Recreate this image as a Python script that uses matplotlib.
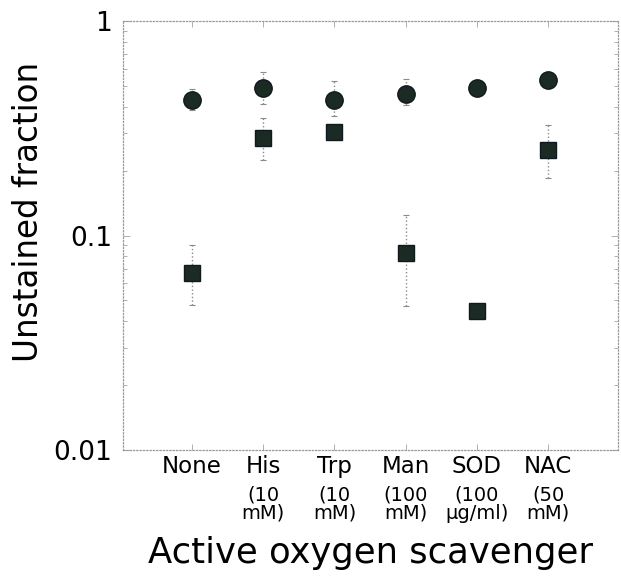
import matplotlib
matplotlib.use("Agg")
import matplotlib.pyplot as plt
import numpy as np

plt.rcParams['font.family'] = ['DejaVu Sans']

categories = ["None", "His", "Trp", "Man", "SOD", "NAC"]
sublabels = ["", "(10\nmM)", "(10\nmM)", "(100\nmM)", "(100\nμg/ml)", "(50\nmM)"]

circle_vals = [0.43, 0.49, 0.43, 0.46, 0.49, 0.53]
circle_lo = [0.385, 0.41, 0.36, 0.405, 0.465, 0.50]
circle_hi = [0.485, 0.58, 0.525, 0.535, 0.52, 0.56]

square_vals = [0.067, 0.284, 0.303, 0.083, 0.0445, 0.252]
square_lo = [0.0474, 0.225, 0.281, 0.047, 0.042, 0.185]
square_hi = [0.090, 0.352, 0.326, 0.125, 0.047, 0.327]

yticks = [0.01, 0.1, 1]
yticklabels = ["0.01", "0.1", "1"]

x = np.arange(1, len(categories) + 1)

fig = plt.figure(figsize=(6.21, 5.81), dpi=100)
ax = fig.add_axes([0.198, 0.2255, 0.797, 0.738])

mcol = "#1c2a24"
ecol = "#8a8a8a"

def draw(vals, lo, hi, marker, ms):
    vals = np.array(vals); lo = np.array(lo); hi = np.array(hi)
    err = np.vstack([vals - lo, hi - vals])
    eb = ax.errorbar(x, vals, yerr=err, fmt='none', ecolor=ecol, elinewidth=1.0,
                     capsize=2.5, capthick=0.8, zorder=2)
    for lc in eb[2]:
        lc.set_linestyle(':')
    ax.plot(x, vals, linestyle='none', marker=marker, ms=ms, mfc=mcol,
            mec="#101820", mew=1.0, zorder=3)

draw(circle_vals, circle_lo, circle_hi, 'o', 12.5)
draw(square_vals, square_lo, square_hi, 's', 12)

ax.set_yscale('log')
ax.set_ylim(0.01, 1)
ax.set_xlim(0.03, 6.98)
ax.set_yticks(yticks)
ax.set_yticklabels(yticklabels, fontsize=19)
ax.set_xticks(x)
ax.set_xticklabels([])

for s in ax.spines.values():
    s.set_linestyle(':')
    s.set_color('#9a9a9a')
    s.set_linewidth(0.9)

ax.tick_params(axis='both', which='both', direction='in', color='#b0b0b0',
               top=True, right=True, width=0.7)
ax.tick_params(axis='y', which='major', length=5, pad=8)
ax.tick_params(axis='y', which='minor', length=3)
ax.tick_params(axis='x', which='major', length=4)

for xi, c, sub in zip(x, categories, sublabels):
    ax.text(xi, -0.012, c, transform=ax.get_xaxis_transform(), ha='center',
            va='top', fontsize=16.5)
    if sub:
        ax.text(xi, -0.083, sub, transform=ax.get_xaxis_transform(), ha='center',
                va='top', fontsize=14, linespacing=0.95)

ax.set_ylabel("Unstained fraction", fontsize=23.5, labelpad=6, y=0.555)
fig.text((0.198 + 0.995) / 2, 0.048, "Active oxygen scavenger", ha='center',
         va='center', fontsize=25.5)

fig.savefig("out.png", dpi=100)
